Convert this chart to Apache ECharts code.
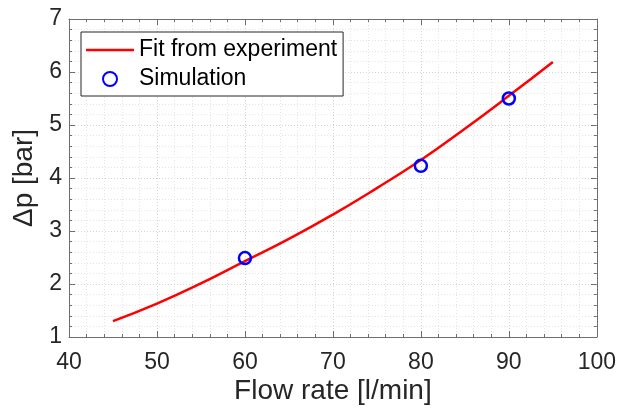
<!DOCTYPE html>
<html>
<head>
<meta charset="utf-8">
<script src="https://cdn.jsdelivr.net/npm/echarts@6/dist/echarts.min.js"></script>
<style>
  html, body { margin: 0; padding: 0; background: #fff; }
  #chart { width: 619px; height: 412px; }
</style>
</head>
<body>
<div id="chart"></div>
<script>
// values
const fitFlow = [45, 50, 55, 60, 65, 70, 75, 80, 85, 90, 95];
const fitDp = [1.30, 1.63, 2.01, 2.43, 2.85, 3.31, 3.81, 4.34, 4.93, 5.55, 6.19];
const simFlow = [60, 80, 90];
const simDp = [2.49, 4.23, 5.50];

const font = '"Liberation Sans", Arial, Helvetica, sans-serif';
const axisGray = '#6e6e6e';
const textGray = '#262626';

const chart = echarts.init(document.getElementById('chart'));

function mainAxis(min, max, extra) {
  return Object.assign({
    type: 'value',
    min: min,
    max: max,
    interval: 1,
    axisLine: { show: true, lineStyle: { color: axisGray, width: 1 } },
    axisTick: { show: true, inside: true, length: 6, lineStyle: { color: axisGray } },
    minorTick: { show: true, splitNumber: 5, length: 3, lineStyle: { color: axisGray } },
    splitLine: { show: true, lineStyle: { color: '#d4d4d4', type: [1, 2] } },
    minorSplitLine: { show: true, lineStyle: { color: '#e4e4e4', type: [1, 2] } },
    axisLabel: { color: textGray, fontSize: 23, fontFamily: font }
  }, extra);
}

const options = {
  animation: false,
  backgroundColor: '#fff',
  grid: { left: 69, right: 22, top: 19, bottom: 75 },
  xAxis: [
    mainAxis(40, 100, {
      interval: 10,
      position: 'bottom',
      axisLabel: { color: textGray, fontSize: 23, fontFamily: font, margin: 14 },
      name: 'Flow rate [l/min]',
      nameLocation: 'middle',
      nameGap: 40,
      nameMoveOverlap: false,
      nameTextStyle: { color: textGray, fontSize: 28, fontFamily: font }
    }),
    mainAxis(40, 100, {
      interval: 10,
      position: 'top',
      axisLabel: { show: false },
      splitLine: { show: false },
      minorSplitLine: { show: false }
    })
  ],
  yAxis: [
    mainAxis(1, 7, {
      position: 'left',
      axisLabel: { color: textGray, fontSize: 23, fontFamily: font, margin: 7 },
      name: 'Δp [bar]',
      nameLocation: 'middle',
      nameGap: 31,
      nameMoveOverlap: false,
      nameTextStyle: { color: textGray, fontSize: 28, fontFamily: font }
    }),
    mainAxis(1, 7, {
      position: 'right',
      axisLabel: { show: false },
      splitLine: { show: false },
      minorSplitLine: { show: false }
    })
  ],
  legend: {
    orient: 'vertical',
    left: 81,
    top: 32,
    padding: [5, 6, 4, 5],
    itemGap: 3,
    itemWidth: 48,
    itemHeight: 14,
    backgroundColor: '#fff',
    borderColor: textGray,
    borderWidth: 1,
    borderRadius: 0,
    textStyle: { color: '#000', fontSize: 23, fontFamily: font, lineHeight: 26 },
    data: [
      { name: 'Fit from experiment', icon: 'path://M0 0H48V2.5H0Z' },
      { name: 'Simulation' }
    ]
  },
  series: [
    {
      name: 'Fit from experiment',
      type: 'line',
      smooth: true,
      symbol: 'none',
      data: fitFlow.map((x, i) => [x, fitDp[i]]),
      lineStyle: { color: '#ff0000', width: 2.5 },
      itemStyle: { color: '#ff0000' },
      z: 3
    },
    {
      name: 'Simulation',
      type: 'scatter',
      symbol: 'circle',
      symbolSize: 12,
      data: simFlow.map((x, i) => [x, simDp[i]]),
      itemStyle: { color: 'rgba(0,0,0,0)', borderColor: '#0000ff', borderWidth: 2.5, opacity: 1 },
      z: 4
    }
  ]
};

chart.setOption(options);
</script>
</body>
</html>
